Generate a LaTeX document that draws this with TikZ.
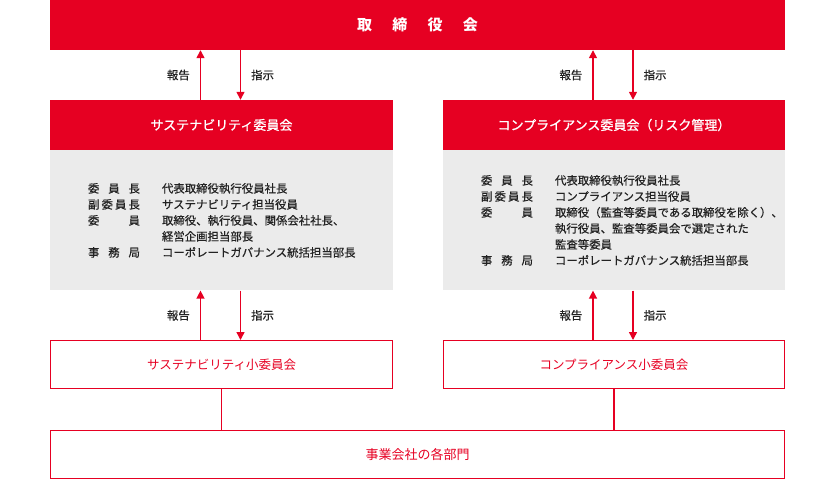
\documentclass[tikz,border=0pt]{standalone}
\usepackage{fontspec}
\newfontfamily\jpfont{Noto Sans CJK JP}
\newfontfamily\jpmed[FakeBold=1.2]{Noto Sans CJK JP}
\newfontfamily\jpsemi[FakeBold=0.6]{Noto Sans CJK JP}
\usetikzlibrary{arrows.meta}
\usetikzlibrary{calc}
\usetikzlibrary{positioning}
\definecolor{brandred}{RGB}{230,0,34}
\definecolor{panelgray}{RGB}{235,235,235}
\definecolor{inkgray}{RGB}{34,34,34}
\tikzset{
redbox/.style={fill=brandred,
  text=white,
    inner sep=0pt,
    minimum height=50pt,
    font=\jpmed\fontsize{13}{13}\selectfont},
bodybox/.style={fill=panelgray,
  inner sep=0pt,
    minimum height=140pt},
linebox/.style={draw=brandred,
  line width=1.2pt,
    text=brandred,
    inner sep=0pt,
    minimum height=47.8pt,
    font=\jpfont\fontsize{12.5}{13}\selectfont},
member/.style={align=left,
  inner sep=0pt,
    text=inkgray,
    font=\jpsemi\fontsize{11.4}{16}\selectfont},
tag/.style={inner sep=0pt,
  text=inkgray,
    font=\jpsemi\fontsize{11.4}{12}\selectfont},
arr/.style={draw=brandred, line width=1.4pt, -{Triangle[width=8pt,length=8pt]}},
link/.style={draw=brandred, line width=1.2pt},
}
\newcommand{\rolebox}[1]{\makebox[52pt][s]{#1}\hspace{22pt}}

\begin{document}
\begin{tikzpicture}[x=1pt,y=-1pt]
  \useasboundingbox (0,0) rectangle (835,480);

  % Nodes
  \node [redbox, minimum width=735pt, font=\jpfont\bfseries\fontsize{15}{15}\selectfont] (board) at (417.5,25) {取\hspace{1.35em}締\hspace{1.35em}役\hspace{1.35em}会};
  \node [redbox, minimum width=343pt] (sustcom) at (221.5,125) {サステナビリティ委員会};
  \node [redbox, minimum width=342pt] (compcom) at (614,125) {コンプライアンス委員会（リスク管理）};
  \node [bodybox, minimum width=343pt, below=0pt of sustcom] (sustbody) {};
  \node [bodybox, minimum width=342pt, below=0pt of compcom] (compbody) {};
  \node [member, anchor=west] (sustlist) at ([xshift=38pt]sustbody.west) {\rolebox{委\hfill 員\hfill 長}代表取締役執行役員社長\\
    \rolebox{副\hfill 委\hfill 員\hfill 長}サステナビリティ担当役員\\
    \rolebox{委\hfill 員}取締役、執行役員、関係会社社長、\\
    \hspace*{74pt}経営企画担当部長\\
    \rolebox{事\hfill 務\hfill 局}コーポレートガバナンス統括担当部長};
  \node [member, anchor=west] (complist) at ([xshift=38pt]compbody.west) {\rolebox{委\hfill 員\hfill 長}代表取締役執行役員社長\\
    \rolebox{副\hfill 委\hfill 員\hfill 長}コンプライアンス担当役員\\
    \rolebox{委\hfill 員}取締役（監査等委員である取締役を除く）、\\
    \hspace*{74pt}執行役員、監査等委員会で選定された\\
    \hspace*{74pt}監査等委員\\
    \rolebox{事\hfill 務\hfill 局}コーポレートガバナンス統括担当部長};
  \node [linebox, minimum width=341.8pt] (sustsub) at (221.5,364.5) {サステナビリティ小委員会};
  \node [linebox, minimum width=340.8pt] (compsub) at (614,364.5) {コンプライアンス小委員会};
  \node [linebox, minimum width=733.8pt, font=\jpfont\fontsize{13}{13}\selectfont] (units) at (417.5,454.5) {事業会社の各部門};

  % Report / instruction arrows
  \draw [arr] ([xshift=-21pt]sustcom.north) -- ([xshift=-21pt]sustcom.north |- board.south) node [tag, midway, left=10pt] {報告};
  \draw [arr] ([xshift=19pt]sustcom.north |- board.south) -- ([xshift=19pt]sustcom.north) node [tag, midway, right=10pt] {指示};
  \draw [arr] ([xshift=-21pt]compcom.north) -- ([xshift=-21pt]compcom.north |- board.south) node [tag, midway, left=10pt] {報告};
  \draw [arr] ([xshift=19pt]compcom.north |- board.south) -- ([xshift=19pt]compcom.north) node [tag, midway, right=10pt] {指示};

  \draw [arr] ([xshift=-21pt]sustsub.north) -- ([xshift=-21pt]sustsub.north |- sustbody.south) node [tag, midway, left=10pt] {報告};
  \draw [arr] ([xshift=19pt]sustsub.north |- sustbody.south) -- ([xshift=19pt]sustsub.north) node [tag, midway, right=10pt] {指示};
  \draw [arr] ([xshift=-21pt]compsub.north) -- ([xshift=-21pt]compsub.north |- compbody.south) node [tag, midway, left=10pt] {報告};
  \draw [arr] ([xshift=19pt]compsub.north |- compbody.south) -- ([xshift=19pt]compsub.north) node [tag, midway, right=10pt] {指示};

  % Links down to the business units
  \draw [link] (sustsub.south) -- (sustsub.south |- units.north);
  \draw [link] (compsub.south) -- (compsub.south |- units.north);
\end{tikzpicture}
\end{document}
